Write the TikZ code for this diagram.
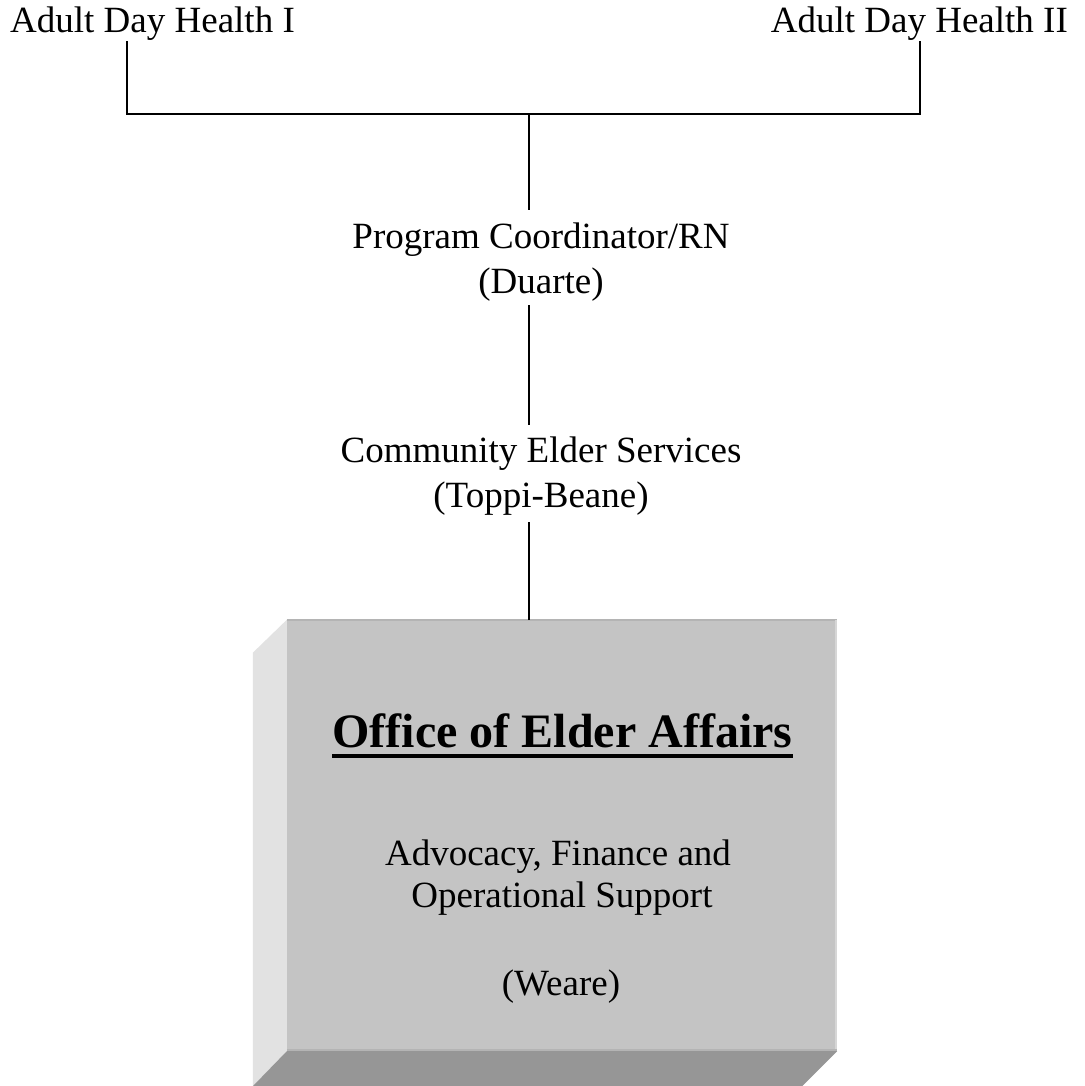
\documentclass[tikz,border=0pt]{standalone}
\usepackage{fontspec}
\setmainfont{Liberation Serif}
\usetikzlibrary{calc}
\definecolor{frontgray}{HTML}{C4C4C4}
\definecolor{leftgray}{HTML}{E2E2E2}
\definecolor{bottomgray}{HTML}{969696}
\definecolor{edgegray}{HTML}{B4B4B4}
\definecolor{rightedge}{HTML}{D6D6D6}
\begin{document}
\begin{tikzpicture}[x=1pt,y=-1pt,
  lbl/.style={inner sep=0pt, font=\fontsize{37}{44}\selectfont},
  bold/.style={inner sep=0pt, font=\fontsize{48}{58}\selectfont\bfseries},
  conn/.style={line width=1.8pt, black}]
\fill[white] (0,0) rectangle (1084,1086);
\useasboundingbox (0,0) rectangle (1084,1086);

% box
\node[fill=frontgray, draw=none, inner sep=0pt, minimum width=550pt, minimum height=431pt] (oea) at (562,835.5) {};
\fill[leftgray] (oea.north west) -- ($(oea.north west)+(-34,33)$) -- ($(oea.south west)+(-34,35)$) -- (oea.south west) -- cycle;
\fill[bottomgray] (oea.south west) -- (oea.south east) -- ($(oea.south east)+(-35,35)$) -- ($(oea.south west)+(-34,35)$) -- cycle;
\draw[edgegray, line width=2pt] (oea.north west) -- (oea.north east);
\draw[rightedge, line width=2pt] ([xshift=-1pt]oea.north east) -- ([xshift=-1pt]oea.south east);
\draw[edgegray, line width=2pt] ([yshift=1pt]oea.south west) -- ([yshift=1pt]oea.south east);

% texts
\node[lbl, anchor=base west] (adh1) at (10,33) {Adult Day Health I};
\node[lbl, anchor=base east] (adh2) at (1068,33) {Adult Day Health II};
\node[lbl, anchor=base] (pc) at (541,248) {Program Coordinator/RN};
\node[lbl, anchor=base] (pcn) at (541,293) {(Duarte)};
\node[lbl, anchor=base] (ces) at (541,462) {Community Elder Services};
\node[lbl, anchor=base] (cesn) at (541,507) {(Toppi-Beane)};

\node[bold, anchor=base] (oeat) at (562.5,747) {Office of Elder Affairs};
\draw[line width=4pt] ($(oeat.base west)+(0,9)$) -- ($(oeat.base east)+(0,9)$);
\node[lbl, anchor=base] (adv1) at (558,865) {Advocacy, Finance and};
\node[lbl, anchor=base] (adv2) at (562,907) {Operational Support};
\node[lbl, anchor=base] (wea) at (561,995) {(Weare)};

% connectors
\coordinate (lc) at (127,114);
\coordinate (rc) at (920,114);
\coordinate (hub) at (529,114);
\draw[conn] (adh1.south -| lc) -- (lc) -- (rc) -- (adh2.south -| rc);
\draw[conn, shorten >=12.5pt] (hub) -- (hub |- pc.north);
\draw[conn, shorten <=4pt, shorten >=11.5pt] (hub |- pcn.south) -- (hub |- ces.north);
\draw[conn, shorten <=7pt] (hub |- cesn.south) -- (hub |- oea.north);
\end{tikzpicture}
\end{document}
